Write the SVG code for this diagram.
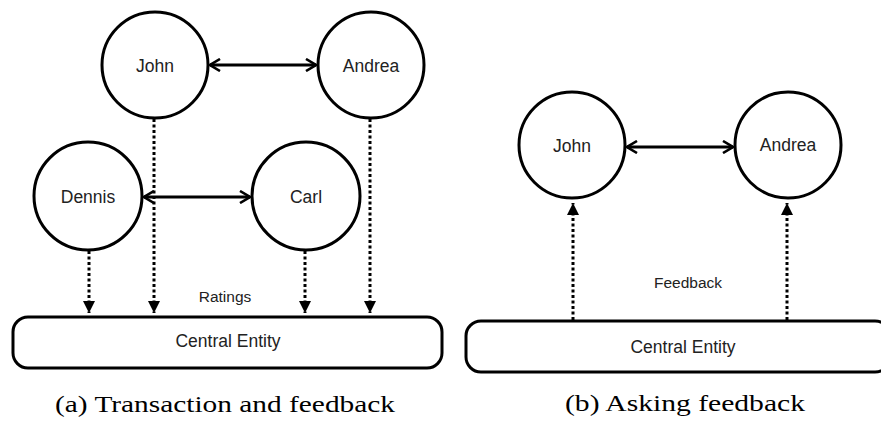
<svg xmlns="http://www.w3.org/2000/svg" width="881" height="423" viewBox="0 0 881 423">
  <style>
    .node { fill: #ffffff; stroke: #000000; stroke-width: 3; }
    .lbl { font-family: "Liberation Sans", Arial, sans-serif; font-size: 17.5px; fill: #222222; text-anchor: middle; }
    .small { font-size: 15.5px; }
    .cap { font-family: "Liberation Serif", "Times New Roman", serif; font-size: 24px; fill: #000000; text-anchor: middle; }
    .link { fill: none; stroke: #000000; stroke-width: 3; }
    .dots { fill: none; stroke: #000000; stroke-width: 3; stroke-dasharray: 3 2.5; }
  </style>
  <defs>
    <marker id="open" viewBox="0 0 12 14" refX="11" refY="7" markerWidth="12" markerHeight="14" markerUnits="userSpaceOnUse" orient="auto-start-reverse">
      <path d="M1,1 L11,7 L1,13" fill="none" stroke="#000000" stroke-width="2.6"/>
    </marker>
    <marker id="block" viewBox="0 0 12 12" refX="12" refY="6" markerWidth="12" markerHeight="12" markerUnits="userSpaceOnUse" orient="auto">
      <path d="M0,0 L12,6 L0,12 Z" fill="#000000"/>
    </marker>
  </defs>

  <!-- (a) transaction and feedback -->
  <g id="connectors-a">
    <line class="link" x1="210" y1="65" x2="316" y2="65" marker-start="url(#open)" marker-end="url(#open)"/>
    <line class="link" x1="144" y1="197" x2="250" y2="197" marker-start="url(#open)" marker-end="url(#open)"/>
    <line class="dots" x1="154" y1="119" x2="154" y2="313" marker-end="url(#block)"/>
    <line class="dots" x1="370" y1="119" x2="370" y2="313" marker-end="url(#block)"/>
    <line class="dots" x1="89" y1="251" x2="89" y2="313" marker-end="url(#block)"/>
    <line class="dots" x1="305" y1="251" x2="305" y2="313" marker-end="url(#block)"/>
    <text class="lbl small" x="225" y="302">Ratings</text>
  </g>
  <g id="a-john">
    <circle class="node" cx="155" cy="65" r="53"/>
    <text class="lbl" x="155" y="72">John</text>
  </g>
  <g id="a-andrea">
    <circle class="node" cx="371" cy="65" r="53"/>
    <text class="lbl" x="371" y="72">Andrea</text>
  </g>
  <g id="a-dennis">
    <circle class="node" cx="88" cy="196" r="54"/>
    <text class="lbl" x="88" y="203">Dennis</text>
  </g>
  <g id="a-carl">
    <circle class="node" cx="306" cy="196" r="54"/>
    <text class="lbl" x="306" y="203">Carl</text>
  </g>
  <g id="a-central">
    <rect class="node" x="13" y="317" width="429" height="51" rx="15"/>
    <text class="lbl" x="228" y="347">Central Entity</text>
  </g>

  <!-- (b) asking feedback -->
  <g id="connectors-b">
    <line class="link" x1="627" y1="147" x2="733" y2="147" marker-start="url(#open)" marker-end="url(#open)"/>
    <line class="dots" x1="573" y1="320" x2="573" y2="203" marker-end="url(#block)"/>
    <line class="dots" x1="787" y1="320" x2="787" y2="203" marker-end="url(#block)"/>
    <text class="lbl small" x="688" y="288">Feedback</text>
  </g>
  <g id="b-john">
    <circle class="node" cx="572" cy="145" r="53"/>
    <text class="lbl" x="572" y="152">John</text>
  </g>
  <g id="b-andrea">
    <circle class="node" cx="788" cy="145" r="53"/>
    <text class="lbl" x="788" y="151">Andrea</text>
  </g>
  <g id="b-central">
    <rect class="node" x="466" y="321" width="424" height="51" rx="15"/>
    <text class="lbl" x="683" y="353">Central Entity</text>
  </g>

  <!-- captions -->
  <text class="cap" x="225" y="412" textLength="340" lengthAdjust="spacingAndGlyphs">(a) Transaction and feedback</text>
  <text class="cap" x="685" y="411" textLength="240" lengthAdjust="spacingAndGlyphs">(b) Asking feedback</text>
</svg>
